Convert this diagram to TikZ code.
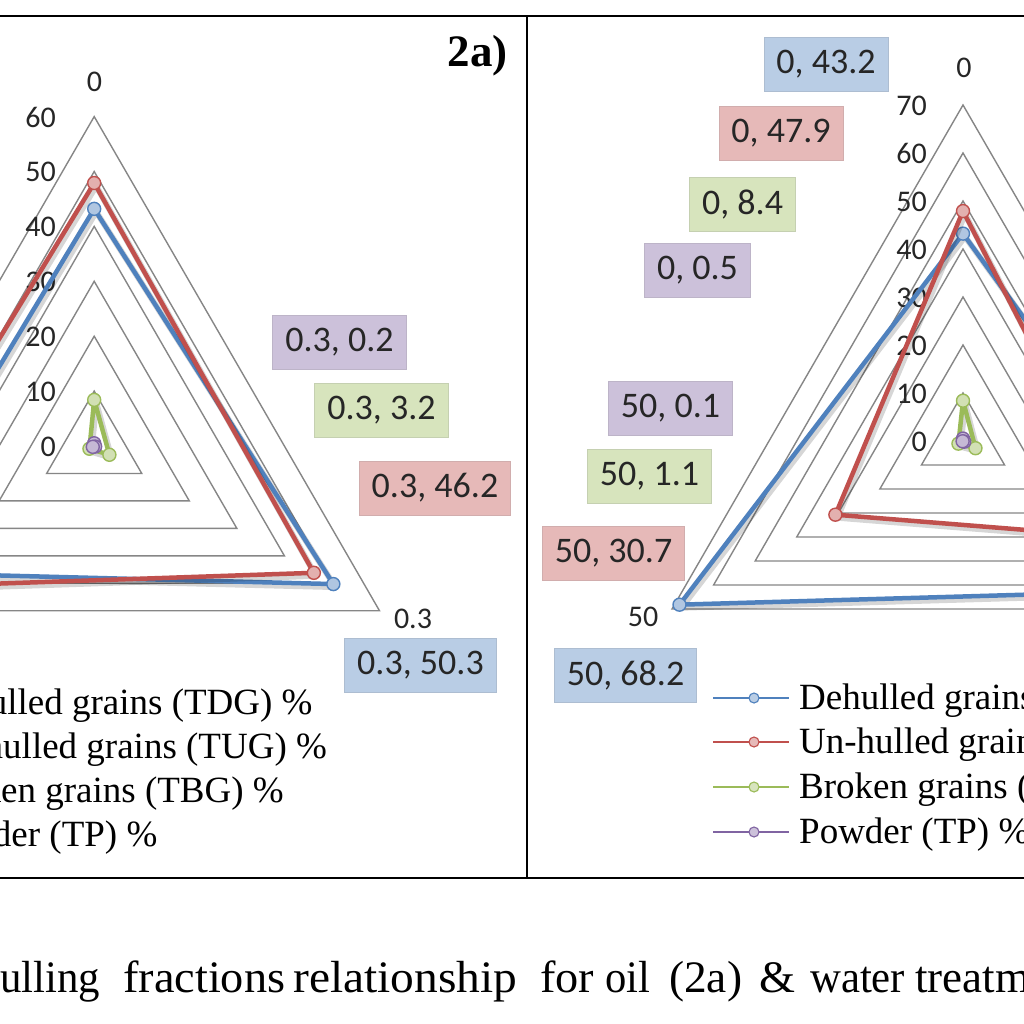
\documentclass[tikz,border=0pt]{standalone}
\usepackage{fontspec}
\setmainfont{Liberation Serif}
\newfontfamily\carl{Carlito}
\usetikzlibrary{calc}
\definecolor{sblue}{HTML}{4F81BD}
\definecolor{sred}{HTML}{C0504D}
\definecolor{sgreen}{HTML}{9BBB59}
\definecolor{spurple}{HTML}{8064A2}
\definecolor{fblue}{HTML}{B9CDE5}
\definecolor{fred}{HTML}{E6B9B8}
\definecolor{fgreen}{HTML}{D7E4BD}
\definecolor{fpurple}{HTML}{CCC1DA}
\definecolor{gridgray}{HTML}{868686}
\definecolor{txt}{HTML}{262626}
\tikzset{
  ringline/.style={draw=gridgray, line width=1.4pt, line join=miter},
  serline/.style={draw=#1, line width=4.5pt, line join=round},
  shadowline/.style={draw=black, opacity=0.16, line width=6pt, line join=round},
  dotm/.style={circle, draw=#1, fill=#1!45!white, line width=1.4pt, inner sep=0pt, minimum size=13pt},
  legdot/.style={circle, draw=#1, fill=#1!40!white, line width=1.1pt, inner sep=0pt, minimum size=10pt},
  legline/.style={draw=#1, line width=1.8pt},
  dlabel/.style={font=\carl\fontsize{36}{40}\selectfont, text=txt, fill=#1, draw=#1!80!gray, line width=0.8pt, inner xsep=12.5pt, inner ysep=0pt, minimum height=54pt},
  axlab/.style={font=\carl\fontsize{30}{34}\selectfont, text=txt, inner sep=0pt},
  legtext/.style={font=\fontsize{37}{44}\selectfont, anchor=base west, inner sep=0pt, text=black},
  captext/.style={font=\fontsize{45}{50}\selectfont, anchor=base west, inner sep=0pt, text=black},
  frameline/.style={draw=black, line width=2.6pt}
}
% scale a word horizontally to a given width (in pt)
\newcommand\fitw[2]{\setbox0\hbox{#2}\pgfmathsetmacro\fitfac{#1/\wd0}\scalebox{\fitfac}[1]{\box0}}
% #1 centre, #2 px per unit, #3 prefix, #4 colour, #5 top value, #6 lower-right value, #7 lower-left value
\newcommand\radser[7]{%
  \coordinate (#3a) at ($(#1)+(-90:#5*#2)$);
  \coordinate (#3b) at ($(#1)+(30:#6*#2)$);
  \coordinate (#3c) at ($(#1)+(150:#7*#2)$);
  \draw[shadowline] ([shift={(2,3)}]#3a) -- ([shift={(2,3)}]#3b) -- ([shift={(2,3)}]#3c) -- cycle;
  \draw[serline=#4] (#3a) -- (#3b) -- (#3c) -- cycle;
  \node[dotm=#4] (#3a-m) at (#3a) {};
  \node[dotm=#4] (#3b-m) at (#3b) {};
  \node[dotm=#4] (#3c-m) at (#3c) {};
}
\begin{document}
\begin{tikzpicture}[x=1pt,y=-1pt]
\useasboundingbox (0,0) rectangle (1024,1024);
\clip (0,0) rectangle (1024,1024);
\fill[white] (0,0) rectangle (1024,1024);

% ---------- left chart (2a) ----------
\coordinate (L) at (94.2,446);
\foreach \k in {1,...,6}{
  \draw[ringline] ($(L)+(-90:\k*54.9)$) -- ($(L)+(30:\k*54.9)$) -- ($(L)+(150:\k*54.9)$) -- cycle;
}
\foreach \k [evaluate=\k as \v using int(\k*10)] in {0,...,6}{
  \node[axlab, anchor=east] (Lr\k) at (56,{446-\k*54.9+0.5}) {\v};
}
\radser{L}{5.49}{Lb}{sblue}{43.2}{50.3}{46}
\radser{L}{5.49}{Lr}{sred}{47.9}{46.2}{52}
\radser{L}{5.49}{Lg}{sgreen}{8.4}{3.2}{1.0}
\radser{L}{5.49}{Lp}{spurple}{0.5}{0.2}{0.3}
\node[axlab] (Lax0) at (94.6,81.5) {0};
\node[axlab] (Lax1) at (413,619) {0.3};
\node[dlabel=fpurple] (Ldp) at (339.5,342.5) {0.3, 0.2};
\node[dlabel=fgreen] (Ldg) at (381.5,410) {0.3, 3.2};
\node[dlabel=fred] (Ldr) at (435,488) {0.3, 46.2};
\node[dlabel=fblue] (Ldb) at (420.5,665.5) {0.3, 50.3};
\node[font=\bfseries\fontsize{45}{48}\selectfont, anchor=base east, inner sep=0pt] (Ltitle) at (508,67) {2a)};
% left legend
\foreach \y/\c/\t [count=\i] in {714/sblue/Dehulled grains (TDG) \%, 758/sred/Un-hulled grains (TUG) \%, 802/sgreen/Broken grains (TBG) \%, 846/spurple/Powder (TP) \%}{
  \draw[legline=\c] (-159,\y-11) -- (-83,\y-11);
  \node[legdot=\c] (Llm\i) at (-118,\y-11) {};
  \node[legtext] (Llt\i) at (-73,\y) {\t};
}

% ---------- right chart (2b) ----------
\coordinate (R) at (963,441);
\foreach \k in {1,...,7}{
  \draw[ringline] ($(R)+(-90:\k*48)$) -- ($(R)+(30:\k*48)$) -- ($(R)+(150:\k*48)$) -- cycle;
}
\foreach \k [evaluate=\k as \v using int(\k*10)] in {0,...,7}{
  \node[axlab, anchor=east] (Rr\k) at (927,{441-\k*48+0.5}) {\v};
}
\radser{R}{4.8}{Rb}{sblue}{43.2}{61.7}{68.2}
\radser{R}{4.8}{Rr}{sred}{47.9}{40.6}{30.7}
\radser{R}{4.8}{Rg}{sgreen}{8.4}{3.0}{1.1}
\radser{R}{4.8}{Rp}{spurple}{0.5}{0.3}{0.1}
\node[axlab] (Rax0) at (964,68) {0};
\node[axlab] (Rax2) at (643,616.5) {50};
\node[dlabel=fblue] (Rd1) at (826,64) {0, 43.2};
\node[dlabel=fred] (Rd2) at (781,133.3) {0, 47.9};
\node[dlabel=fgreen] (Rd3) at (742.5,204.5) {0, 8.4};
\node[dlabel=fpurple] (Rd4) at (697.5,270.5) {0, 0.5};
\node[dlabel=fpurple] (Rd5) at (670.5,408.5) {50, 0.1};
\node[dlabel=fgreen] (Rd6) at (649.5,476) {50, 1.1};
\node[dlabel=fred] (Rd7) at (613.5,553.5) {50, 30.7};
\node[dlabel=fblue] (Rd8) at (625.5,675) {50, 68.2};
% right legend
\foreach \y/\c/\t [count=\i] in {709/sblue/Dehulled grains (TDG) \%, 753/sred/Un-hulled grains (TUG) \%, 798/sgreen/Broken grains (TBG) \%, 843/spurple/Powder (TP) \%}{
  \draw[legline=\c] (713,\y-11) -- (789,\y-11);
  \node[legdot=\c] (Rlm\i) at (754,\y-11) {};
  \node[legtext] (Rlt\i) at (799,\y) {\t};
}

% ---------- frame ----------
\draw[frameline] (0,16) -- (1024,16);
\draw[frameline] (0,878) -- (1024,878);
\draw[frameline] (527,16) -- (527,878);

% ---------- caption ----------
\foreach \x/\wdt/\w [count=\i] in {0/100/ulling, 123/162/fractions, 293/224/relationship, 540/54/for, 605/45/oil, 669/73/(2a), 759/36/\&, 810/95/water}{
  \node[captext] (cap\i) at (\x,992) {\fitw{\wdt}{\w}};
}
\node[captext] (cap9) at (915,992) {treatment};
\end{tikzpicture}
\end{document}
